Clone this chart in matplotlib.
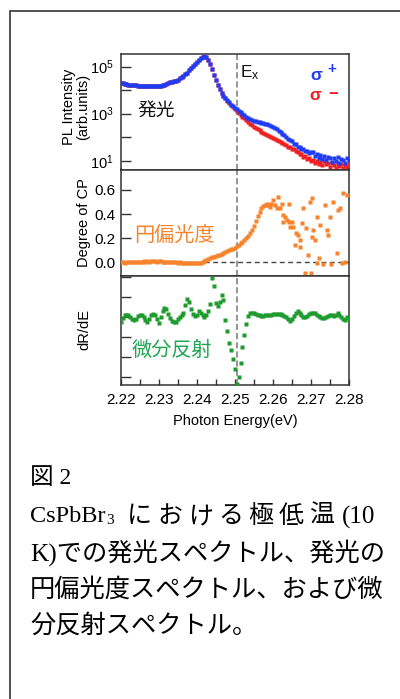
import numpy as np
import matplotlib
matplotlib.use('Agg')
import matplotlib.pyplot as plt
from matplotlib.patches import Rectangle
from matplotlib.ticker import NullLocator, MultipleLocator

plt.rcParams['font.family'] = ['Liberation Sans', 'Noto Sans CJK JP']
plt.rcParams['mathtext.default'] = 'regular'

# photon energy grid (eV), step 0.5 meV
energy = np.round(2.22 + 0.0005 * np.arange(121), 4)

# PL intensity, log10(arb. units)
pl_plus_log = [4.31, 4.29, 4.27, 4.26, 4.24, 4.23, 4.22, 4.21, 4.20, 4.19,
               4.19, 4.18, 4.18, 4.18, 4.18, 4.18, 4.18, 4.18, 4.18, 4.19,
               4.19, 4.19, 4.20, 4.23, 4.26, 4.30, 4.33, 4.36, 4.39, 4.41,
               4.45, 4.50, 4.55, 4.59, 4.67, 4.75, 4.84, 4.93, 5.02, 5.11,
               5.19, 5.27, 5.35, 5.41, 5.44, 5.40, 5.30, 5.13, 4.90, 4.66,
               4.44, 4.24, 4.05, 3.88, 3.77, 3.66, 3.57, 3.48, 3.39, 3.32,
               3.26, 3.20, 3.13, 3.06, 2.99, 2.93, 2.87, 2.82, 2.77, 2.73,
               2.70, 2.67, 2.66, 2.64, 2.62, 2.60, 2.58, 2.55, 2.51, 2.48,
               2.44, 2.39, 2.34, 2.28, 2.21, 2.15, 2.08, 2.01, 1.94, 1.87,
               1.83, 1.72, 1.70, 1.60, 1.60, 1.50, 1.50, 1.40, 1.42, 1.32,
               1.36, 1.38, 1.22, 1.30, 1.12, 1.25, 1.08, 1.20, 1.02, 1.15,
               1.10, 0.95, 1.12, 1.00, 1.15, 0.92, 1.08, 1.05, 0.90, 1.10, 1.02]
pl_minus_log = [4.31, 4.29, 4.27, 4.26, 4.24, 4.23, 4.22, 4.21, 4.20, 4.19,
                4.19, 4.18, 4.18, 4.18, 4.18, 4.18, 4.18, 4.18, 4.18, 4.19,
                4.19, 4.19, 4.20, 4.23, 4.26, 4.30, 4.33, 4.36, 4.39, 4.41,
                4.45, 4.50, 4.55, 4.59, 4.67, 4.75, 4.84, 4.93, 5.02, 5.11,
                5.19, 5.27, 5.35, 5.41, 5.44, 5.40, 5.30, 5.13, 4.90, 4.66,
                4.44, 4.24, 4.05, 3.88, 3.76, 3.65, 3.55, 3.45, 3.36, 3.28,
                3.20, 3.12, 3.04, 2.96, 2.88, 2.80, 2.72, 2.65, 2.58, 2.51,
                2.45, 2.40, 2.34, 2.29, 2.24, 2.19, 2.14, 2.10, 2.06, 2.02,
                1.98, 1.94, 1.89, 1.85, 1.80, 1.75, 1.70, 1.65, 1.60, 1.57,
                1.50, 1.48, 1.40, 1.38, 1.28, 1.30, 1.18, 1.22, 1.08, 1.12,
                1.00, 1.05, 0.92, 1.00, 0.88, 0.95, 0.80, 0.98, 0.85, 0.90,
                0.75, 0.92, 0.82, 0.70, 0.88, 0.78, 0.85, 0.68, 0.80, 0.72, 0.85]

# degree of circular polarization, smooth part (2.2200 - 2.2595 eV)
cp_smooth = [0.000, 0.002, -0.002, 0.000, 0.003, 0.001, 0.004, 0.002, 0.000, 0.003,
             0.005, 0.004, 0.007, 0.005, 0.008, 0.006, 0.009, 0.007, 0.008, 0.006,
             0.009, 0.007, 0.005, 0.006, 0.003, 0.004, 0.001, 0.002, -0.001, 0.000,
             -0.002, -0.001, -0.004, -0.003, -0.005, -0.004, -0.006, -0.005, -0.007, -0.006,
             -0.007, -0.006, -0.004, 0.003, 0.012, 0.022, 0.030, 0.036, 0.040, 0.046,
             0.052, 0.058, 0.064, 0.070, 0.076, 0.082, 0.090, 0.098, 0.106, 0.114,
             0.122, 0.132, 0.144, 0.158, 0.172, 0.186, 0.202, 0.218, 0.242, 0.270,
             0.305, 0.345, 0.385, 0.420, 0.450, 0.468, 0.475, 0.472, 0.476, 0.480]
# noisy part above 2.258 eV
cp_noisy_e = [2.2599, 2.2614, 2.2584, 2.2592, 2.2605, 2.2610, 2.2619, 2.2623, 2.2627, 2.2632,
              2.2636, 2.2641, 2.2627, 2.2645, 2.2654, 2.2649, 2.2643, 2.2662, 2.2667, 2.2658,
              2.2671, 2.2671, 2.2676, 2.2678, 2.2687, 2.2691, 2.2698, 2.2702, 2.2702, 2.2706,
              2.2711, 2.2715, 2.2717, 2.2720, 2.2724, 2.2731, 2.2737, 2.2741, 2.2746, 2.2750,
              2.2753, 2.2759, 2.2768, 2.2770, 2.2776, 2.2782, 2.2785, 2.2794, 2.2790, 2.2684,
              2.2700]
cp_noisy = [0.517, 0.545, 0.481, 0.462, 0.476, 0.448, 0.454, 0.481, 0.393, 0.379,
            0.351, 0.337, 0.337, 0.296, 0.296, 0.337, 0.481, 0.240, 0.227, 0.144,
            0.185, 0.130, 0.324, 0.448, 0.282, 0.061, 0.503, 0.531, 0.213, 0.268,
            0.185, -0.008, 0.379, 0.033, 0.310, -0.017, 0.476, 0.268, 0.227, 0.379,
            -0.017, 0.503, 0.075, 0.434, 0.448, -0.008, 0.572, 0.559, 0.005, -0.092,
            -0.092]

# differential reflectance (arb. units)
drde = [-0.25, -0.07, 0.07, 0.10, 0.07, -0.03, -0.13, -0.18, -0.10, 0.02,
        0.10, 0.07, -0.03, -0.18, -0.27, -0.10, 0.07, 0.15, 0.07, -0.13,
        -0.32, -0.02, 0.27, 0.44, 0.37, 0.15, -0.07, -0.20, -0.28, -0.27,
        -0.13, -0.02, 0.10, 0.20, 0.57, 0.87, 0.74, 0.40, 0.15, 0.04,
        0.10, 0.27, 0.20, 0.07, -0.03, 0.07, 0.27, 0.65, 1.95, 1.55,
        0.70, 0.55, 0.75, 1.10, 0.85, -0.15, -0.70, -1.30, -1.65, -2.10,
        -2.60, -3.35, -3.00, -2.30, -1.52, -0.90, -0.35, 0.04, 0.17, 0.20,
        0.17, 0.14, 0.10, 0.07, 0.04, 0.02, 0.07, 0.10, 0.07, 0.10,
        0.12, 0.12, 0.14, 0.14, 0.14, 0.10, 0.04, -0.03, -0.13, -0.20,
        -0.10, 0.04, 0.17, 0.27, 0.20, 0.07, 0.00, -0.03, 0.04, 0.12,
        0.17, 0.17, 0.19, 0.10, 0.04, -0.03, -0.07, -0.07, -0.02, 0.02,
        0.07, 0.07, 0.05, 0.10, 0.17, 0.10, -0.02, -0.13, -0.18, -0.03, -0.10]

e_x = 2.2506
xticks = [2.22, 2.23, 2.24, 2.25, 2.26, 2.27, 2.28]

BLUE = '#1f3cf5'
RED = '#ee2020'
ORANGE = '#f7832c'
GREEN = '#1f9b2e'
SPINE = '#333333'

W, H = 400, 699
fig = plt.figure(figsize=(W / 100, H / 100), dpi=100)


def fx(x):
    return x / W


def fy(y):
    return 1 - y / H


L, R = 120.7, 349
ax1 = fig.add_axes([fx(L), fy(169.5), (R - L) / W, (169.5 - 54.3) / H])
ax2 = fig.add_axes([fx(L), fy(276), (R - L) / W, (276 - 169.5) / H], sharex=ax1)
ax3 = fig.add_axes([fx(L), fy(385), (R - L) / W, (385 - 276) / H], sharex=ax1)

ms = 2.8
# PL
ax1.plot(energy, 10 ** np.array(pl_minus_log), 's', ms=ms, color=RED, mec='none', zorder=3)
ax1.plot(energy, 10 ** np.array(pl_plus_log), 's', ms=ms, color=BLUE, mec='none', zorder=4)
ax1.set_yscale('log')
ax1.set_ylim(10 ** 0.628, 10 ** 5.524)
ax1.set_yticks([1e1, 1e2, 1e3, 1e4, 1e5])
ax1.set_yticklabels(['10$^{1}$', '', '10$^{3}$', '', '10$^{5}$'])
ax1.yaxis.set_minor_locator(NullLocator())

# CP
ax2.axhline(0, color='#444444', ls=(0, (3.5, 2.5)), lw=1.0, zorder=1)
ax2.plot(energy[:len(cp_smooth)], cp_smooth, 's', ms=ms, color=ORANGE, mec='none', zorder=3)
ax2.plot(cp_noisy_e, cp_noisy, 's', ms=2.5, color=ORANGE, mec='none', zorder=3)
ax2.set_ylim(-0.114, 0.770)
ax2.set_yticks([0.0, 0.2, 0.4, 0.6])
ax2.set_yticklabels(['0.0', '0.2', '0.4', '0.6'])

# dR/dE
ax3.plot(energy, drde, 's', ms=ms, color=GREEN, mec='none', zorder=3)
ax3.set_ylim(-3.415, 2.035)
ax3.set_yticks([2, 1, 0, -1, -2, -3])
ax3.set_yticklabels([])

ax3.set_xlim(2.22, 2.28)
ax3.set_xticks(xticks)
ax3.set_xticklabels(['%.2f' % t for t in xticks])
ax3.xaxis.set_minor_locator(MultipleLocator(0.005))

for ax in (ax1, ax2, ax3):
    ax.axvline(e_x, color='#777777', ls=(0, (4, 2)), lw=1.1, zorder=2)
    for s in ax.spines.values():
        s.set_color(SPINE)
        s.set_linewidth(1.1)
    ax.tick_params(axis='y', direction='in', length=7, width=1.0, color=SPINE,
                   labelsize=11, pad=4)
    ax.tick_params(axis='x', which='both', direction='in', length=4, width=1.0,
                   color=SPINE, labelsize=11, pad=6)
ax1.tick_params(axis='y', labelsize=10.5, pad=5)
for ax in (ax1, ax2):
    ax.tick_params(axis='x', which='both', bottom=False, labelbottom=False)

ax3.set_xlabel('Photon Energy(eV)', fontsize=10.5, labelpad=5)

# y labels
fig.text(fx(76), fy(107), 'PL Intensity\n(arb.units)', rotation=90, ha='center',
         va='center', fontsize=10.5, linespacing=1.05)
fig.text(fx(84), fy(223), 'Degree of CP', rotation=90, ha='center', va='center', fontsize=10.5)
fig.text(fx(84), fy(329), 'dR/dE', rotation=90, ha='center', va='center', fontsize=10.5)

# annotations
fig.text(fx(137), fy(111), '発光', fontsize=13.5, va='center', color='#111111')
fig.text(fx(240), fy(73), 'E$_{x}$', fontsize=12.5, va='center', color='#111111')
fig.text(fx(310), fy(75), 'σ', fontsize=12.5, fontweight='bold', va='center', color=BLUE)
fig.text(fx(327), fy(69), '+', fontsize=11, fontweight='bold', va='center', color=BLUE)
fig.text(fx(309), fy(96), 'σ', fontsize=12.5, fontweight='bold', va='center', color=RED)
fig.text(fx(328), fy(95), '−', fontsize=12, fontweight='bold', va='center', color=RED)
fig.text(fx(134), fy(235), '円偏光度', fontsize=14.5, va='center', color=ORANGE)
fig.text(fx(132), fy(350), '微分反射', fontsize=14.5, va='center', color='#22a552')

# frame around the figure
fig.add_artist(Rectangle((fx(10), -0.1), 1.2, fy(11) + 0.1, transform=fig.transFigure,
                         fill=False, edgecolor='#222222', lw=1.1))

# caption
cap = ['Liberation Serif', 'Noto Sans CJK JP']
fig.text(fx(30), fy(479), '図 2', fontsize=17, family=cap, va='center')
fig.text(fx(30), fy(517), 'CsPbBr', fontsize=17.5, family=cap, va='center')
fig.text(fx(106), fy(521), '3', fontsize=11, family=cap, va='center')
for k, ch in enumerate('における極低温'):
    fig.text(fx(127 + 30.3 * k), fy(517), ch, fontsize=18, family=cap, va='center')
fig.text(fx(342), fy(517), '(10', fontsize=18, family=cap, va='center')
fig.text(fx(30), fy(553), 'K)での発光スペクトル、発光の', fontsize=18.2, family=cap, va='center')
fig.text(fx(30), fy(590), '円偏光度スペクトル、および微', fontsize=18.2, family=cap, va='center')
fig.text(fx(30), fy(626), '分反射スペクトル。', fontsize=18.2, family=cap, va='center')

fig.savefig('out.png', dpi=100)
